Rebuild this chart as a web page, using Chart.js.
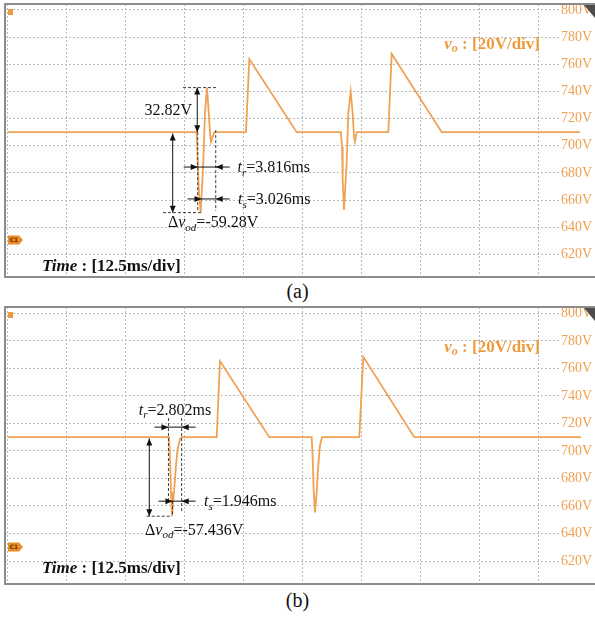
<!DOCTYPE html>
<html>
<head>
<meta charset="utf-8">
<script src="https://cdn.jsdelivr.net/npm/chart.js@4.4.1/dist/chart.umd.min.js"></script>
<style>
  body { margin: 0; background: #fff; width: 595px; height: 618px; position: relative; overflow: hidden; }
  canvas { position: absolute; left: 0; }
  .cap { position: absolute; left: 0; width: 595px; text-align: center; font: 20px 'Liberation Serif', serif; line-height: 20px; color: #111; }
</style>
</head>
<body>
<canvas id="chartA" width="595" height="280" style="top:0"></canvas>
<div class="cap" style="top:281px">(a)</div>
<canvas id="chartB" width="595" height="284" style="top:303px"></canvas>
<div class="cap" style="top:590px">(b)</div>
<script>
// time in ms, output voltage in V
const timeA = [0, 40.08, 40.30, 40.57, 40.93, 41.48, 41.84, 42.27, 42.55, 42.90, 43.11, 43.81, 50.53, 51.23, 61.27,
  70.65, 70.87, 71.02, 71.29, 71.86, 72.20, 72.71, 73.13, 73.41, 73.62, 73.98, 80.68, 81.40, 91.99, 121.3]
const voltA = [710, 710, 687.3, 665.2, 650.7, 687.3, 723.9, 742.8, 728.8, 709.4, 703, 710, 710, 763.9, 710,
  710, 699.3, 674.8, 652.7, 687.1, 723.9, 739.8, 723.9, 706.7, 703, 710, 710, 767.6, 710, 710]

const timeB = [0, 34.21, 34.43, 34.64, 34.85, 35.28, 35.70, 36.06, 36.55, 36.91, 44.32, 45.02, 55.46,
  64.45, 64.66, 64.88, 65.15, 65.51, 65.85, 66.21, 66.63, 74.53, 75.38, 86.18, 121.5]
const voltB = [710, 710, 694.5, 670.3, 652.6, 670.3, 689.7, 701.8, 708.6, 710, 710, 765.3, 710,
  710, 694.5, 670.3, 655.3, 670.3, 689.7, 704.2, 710, 710, 768.4, 710, 710]

const xTicks = [0, 12.5, 25, 37.5, 50, 62.5, 75, 87.5, 100, 112.5]
const yTicks = [620, 640, 660, 680, 700, 720, 740, 760, 780, 800]

// measurement marks (ms, V)
// dashed guides: [t1, v1, t2, v2]
const dashesA = [[37.18, 742.82, 44.38, 742.82], [32.94, 650.72, 41.0, 650.72], [40.3, 710, 40.3, 652], [44.12, 711.5, 44.12, 652]]
const dashesB = [[29.49, 652.56, 34.79, 652.56], [34.1, 723.9, 34.1, 663.5], [34.95, 663.5, 34.95, 652.56], [36.9, 723.9, 36.9, 655]]
// vertical double arrows: [t, v1, v2]
const vArrowsA = [[40.2, 710, 742.82], [35.0, 709, 650.72]]
const vArrowsB = [[30.04, 709, 652.56]]
// time intervals t_r / t_s: [t1, t2, v]
const spansA = [[40.3, 44.12, 684.3], [41.1, 44.12, 660.8]]
const spansB = [[34.1, 36.9, 717.3], [34.95, 36.9, 663.5]]
// labels: [t, v, align, parts]
const labelsA = [
  [39.09, 726.3, 'right', [['32.82V', '']]],
  [48.73, 684.3, 'left', [['t', 'i'], ['r', 'i', 1], ['=3.816ms', '']]],
  [48.83, 660.8, 'left', [['t', 'i'], ['s', 'i', 1], ['=3.026ms', '']]],
  [34.0, 644, 'left', [['\u0394', ''], ['v', 'i'], ['od', 'i', 1], ['=-59.28V', '']]]
]
const labelsB = [
  [35.49, 730.2, 'center', [['t', 'i'], ['r', 'i', 1], ['=2.802ms', '']]],
  [41.63, 663.6, 'left', [['t', 'i'], ['s', 'i', 1], ['=1.946ms', '']]],
  [29.13, 643, 'left', [['\u0394', ''], ['v', 'i'], ['od', 'i', 1], ['=-57.436V', '']]]
]

const TRACE = '#F0A254'
const GRID = '#b9b9b9'
const X_MIN = -0.53
const X_MAX = 123.2

function drawParts(ctx, x, y, parts, size, align, color) {
  const fontOf = (s, sub) => (s.includes('i') ? 'italic ' : '') + (s.includes('b') ? 'bold ' : '') +
    (sub ? Math.round(size * 0.68) : size) + 'px "Liberation Serif"'
  let w = 0
  parts.forEach(([txt, s, sub]) => { ctx.font = fontOf(s, sub); w += ctx.measureText(txt).width })
  let cx = align === 'right' ? x - w : align === 'center' ? x - w / 2 : x
  const base = y + size * 0.33
  ctx.fillStyle = color
  ctx.textAlign = 'left'
  ctx.textBaseline = 'alphabetic'
  parts.forEach(([txt, s, sub]) => {
    ctx.font = fontOf(s, sub)
    ctx.fillText(txt, cx, sub ? base + size * 0.22 : base)
    cx += ctx.measureText(txt).width
  })
}

function head(ctx, x, y, dir) {
  const L = 7, W = 3
  ctx.beginPath()
  if (dir === 'right') { ctx.moveTo(x, y); ctx.lineTo(x - L, y - W); ctx.lineTo(x - L, y + W) }
  if (dir === 'left') { ctx.moveTo(x, y); ctx.lineTo(x + L, y - W); ctx.lineTo(x + L, y + W) }
  if (dir === 'up') { ctx.moveTo(x, y); ctx.lineTo(x - W, y + L); ctx.lineTo(x + W, y + L) }
  if (dir === 'down') { ctx.moveTo(x, y); ctx.lineTo(x - W, y - L); ctx.lineTo(x + W, y - L) }
  ctx.closePath()
  ctx.fill()
}

function line(ctx, x1, y1, x2, y2) {
  ctx.beginPath()
  ctx.moveTo(x1, y1)
  ctx.lineTo(x2, y2)
  ctx.stroke()
}

function marksPlugin(p) {
  return {
    id: 'marks',
    afterDatasetsDraw(chart) {
      const { ctx, chartArea: a, scales: { x, y } } = chart
      const px = t => x.getPixelForValue(t)
      const py = v => y.getPixelForValue(v)
      ctx.save()

      // scope frame and screen markers
      ctx.strokeStyle = '#8c8c8c'
      ctx.lineWidth = 2
      ctx.strokeRect(a.left, a.top, 700, a.bottom - a.top)
      ctx.fillStyle = '#ee9a3c'
      ctx.fillRect(8, a.top + 5, 5, 6)
      ctx.fillStyle = '#4d4d4d'
      ctx.beginPath()
      ctx.moveTo(584, a.top + 1); ctx.lineTo(595, a.top + 1); ctx.lineTo(595, a.top + 14)
      ctx.closePath(); ctx.fill()
      const ty = a.top + p.tagDy
      ctx.fillStyle = '#E98C24'
      ctx.beginPath()
      ctx.moveTo(8, ty - 4.5); ctx.lineTo(19, ty - 4.5); ctx.lineTo(23, ty); ctx.lineTo(19, ty + 4.5); ctx.lineTo(8, ty + 4.5)
      ctx.closePath(); ctx.fill()
      ctx.fillStyle = '#5a3000'
      ctx.font = 'bold 6px "DejaVu Sans"'
      ctx.textAlign = 'center'
      ctx.textBaseline = 'middle'
      ctx.fillText('C1', 14, ty + 0.5)

      // dashed guides
      ctx.strokeStyle = '#3a3a3a'
      ctx.lineWidth = 1
      ctx.setLineDash([3, 2])
      p.dashes.forEach(([t1, v1, t2, v2]) => line(ctx, px(t1), py(v1), px(t2), py(v2)))
      ctx.setLineDash([])

      // arrows
      ctx.strokeStyle = '#111'
      ctx.fillStyle = '#111'
      p.vArrows.forEach(([t, v1, v2]) => {
        const xx = px(t), ya = py(Math.max(v1, v2)), yb = py(Math.min(v1, v2))
        line(ctx, xx, ya, xx, yb)
        head(ctx, xx, ya, 'up')
        head(ctx, xx, yb, 'down')
      })
      p.spans.forEach(([t1, t2, v]) => {
        const x1 = px(t1), x2 = px(t2), yy = py(v)
        line(ctx, x1 - 14, yy, x2 + 14, yy)
        head(ctx, x1, yy, 'right')
        head(ctx, x2, yy, 'left')
      })

      // labels
      p.labels.forEach(([t, v, align, parts]) => drawParts(ctx, px(t), py(v), parts, 16, align, '#111'))
      drawParts(ctx, 540, a.top + 39, [['v', 'bi'], ['o', 'bi', 1], [' : [20V/div]', 'b']], 17, 'right', '#EE9A3C')
      drawParts(ctx, 42, a.top + p.timeDy, [['Time', 'bi'], [' : [12.5ms/div]', 'b']], 17, 'left', '#111')
      ctx.restore()
    }
  }
}

function makeChart(id, time, volt, yMin, yMax, p) {
  return new Chart(document.getElementById(id), {
    type: 'line',
    data: {
      datasets: [{
        data: time.map((t, i) => ({ x: t, y: volt[i] })),
        borderColor: TRACE,
        borderWidth: 1.8,
        pointRadius: 0,
        fill: false,
        tension: 0
      }]
    },
    options: {
      responsive: false,
      animation: false,
      layout: { padding: { top: 4, left: 5, right: 0, bottom: 3 } },
      plugins: { legend: { display: false }, tooltip: { enabled: false } },
      scales: {
        x: {
          type: 'linear',
          min: X_MIN,
          max: X_MAX,
          afterBuildTicks: s => { s.ticks = xTicks.map(v => ({ value: v })) },
          ticks: { display: false },
          grid: { color: GRID, drawTicks: false },
          border: { display: false, dash: [2, 2] }
        },
        y: {
          position: 'right',
          min: yMin,
          max: yMax,
          afterBuildTicks: s => { s.ticks = yTicks.map(v => ({ value: v })) },
          afterFit: s => { s.paddingTop = 0; s.paddingBottom = 0 },
          ticks: {
            mirror: true,
            padding: 3,
            color: '#F0A050',
            font: { family: 'Liberation Serif', size: 14 },
            callback: v => v + 'V',
            showLabelBackdrop: true,
            backdropColor: '#fff',
            backdropPadding: { x: 1, y: 0 }
          },
          grid: { color: GRID, drawTicks: false },
          border: { display: false, dash: [2, 2] }
        }
      }
    },
    plugins: [marksPlugin(p)]
  })
}

makeChart('chartA', timeA, voltA, 603.3, 804.4,
  { dashes: dashesA, vArrows: vArrowsA, spans: spansA, labels: labelsA, tagDy: 236, timeDy: 261 })
makeChart('chartB', timeB, voltB, 603.3, 804.6,
  { dashes: dashesB, vArrows: vArrowsB, spans: spansB, labels: labelsB, tagDy: 240, timeDy: 260 })
</script>
</body>
</html>
